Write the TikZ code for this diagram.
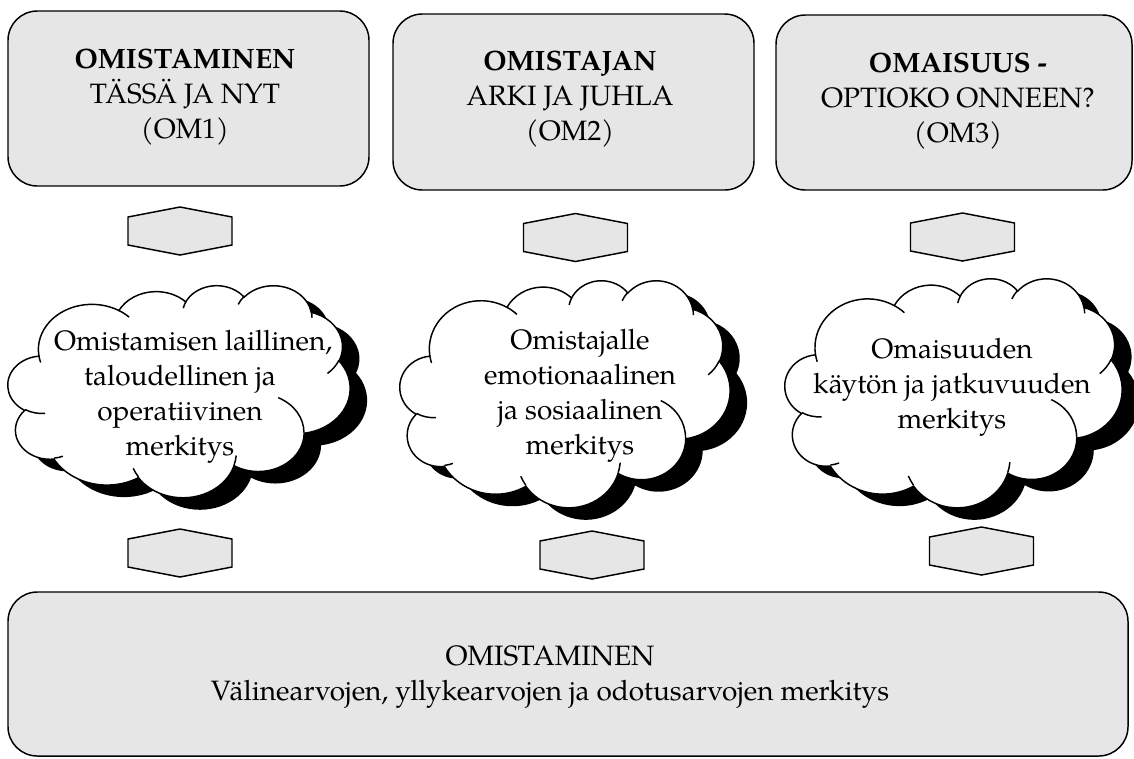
\documentclass[tikz,border=0pt]{standalone}
\usepackage{fontspec}
\setmainfont{TeX Gyre Pagella}
\definecolor{boxgray}{RGB}{230,230,230}
\tikzset{
  gbox/.style={draw=black, fill=boxgray, line width=1.1pt, rounded corners=22pt, inner sep=0pt},
  txt/.style={align=center, font=\fontsize{21}{26.25}\selectfont, inner sep=0pt},
  hexa/.style={draw=black, fill=boxgray, line width=1.1pt, line join=miter},
  cloudline/.style={draw=black, line width=1.1pt},
}
% arc of the Office cloud: wR hR stAng swAng (visual angles, degrees)
\newcommand\carc[4]{arc[start angle={cpar(#3,#1,#2)}, delta angle={cpar(#3+#4,#1,#2)-cpar(#3,#1,#2)}, x radius=#1, y radius=#2]}
\newcommand\cloudoutline{(3.900,14.370)
  \carc{6.753}{9.190}{-190.4875}{123.7805}
  \carc{5.333}{7.267}{-144.1024}{89.9452}
  \carc{4.365}{5.945}{-145.8079}{99.7230}
  \carc{4.857}{6.595}{-130.9861}{117.2417}
  \carc{5.333}{7.273}{-78.7089}{109.0269}
  \carc{6.775}{9.220}{-46.2673}{130.2690}
  \carc{5.785}{7.867}{0.6250}{114.0333}
  \carc{6.752}{9.215}{22.4516}{115.1726}
  \carc{7.720}{10.543}{66.2426}{75.7110}
  \carc{4.360}{5.918}{-274.9421}{146.7356}
  \carc{4.345}{5.945}{-246.8285}{152.5189}
  -- cycle}
\newcommand\cloudinner{
  (4.693,26.177) \carc{4.345}{5.945}{86.742}{26.4295}
  (6.928,34.899) \carc{4.360}{5.918}{73.6105}{11.4475}
  (16.478,39.090) \carc{6.752}{9.215}{137.6242}{14.0811}
  (28.827,34.751) \carc{6.752}{9.215}{6.4533}{15.9984}
  (34.129,22.954) \carc{5.785}{7.867}{-70.2924}{70.9174}
  (41.798,15.354) \carc{5.333}{7.273}{30.3180}{27.7515}
  (38.324,5.426) \carc{4.857}{6.595}{-13.7443}{14.8589}
  (29.078,3.952) \carc{4.857}{6.595}{-149.1815}{18.1954}
  (22.141,4.720) \carc{4.365}{5.945}{-163.4943}{17.6864}
  (14.000,5.192) \carc{6.753}{9.190}{-66.7070}{12.3194}
  (4.127,15.789) \carc{6.753}{9.190}{157.6544}{11.8582}}
% cloud with shadow: left, top, width, height (pixels)
\newcommand\cloudat[4]{%
  \begin{scope}[shift={(#1+17,#2+12)}, xscale=#3/43.2, yscale=#4/43.2]
    \fill[black] \cloudoutline;
  \end{scope}
  \begin{scope}[shift={(#1,#2)}, xscale=#3/43.2, yscale=#4/43.2]
    \filldraw[fill=white, cloudline] \cloudoutline;
    \draw[cloudline] \cloudinner;
  \end{scope}}
\newcommand\hexat[2]{%
  \draw[hexa] ({#1},{#2-24}) -- ({#1+52},{#2-14}) -- ({#1+52},{#2+14}) -- ({#1},{#2+24}) -- ({#1-52},{#2+14}) -- ({#1-52},{#2-14}) -- cycle;}
\begin{document}
\begin{tikzpicture}[x=0.75pt, y=-0.75pt,
  declare function={cpar(\a,\w,\h)=atan2(\w*sin(\a),\h*cos(\a))+360*round((\a-atan2(\w*sin(\a),\h*cos(\a)))/360);}]
\useasboundingbox[fill=white] (0,0) rectangle (1134,758);

% top boxes
\node[gbox, minimum width=270.75pt, minimum height=131.25pt] (box1) at (188.5,98.5) {};
\node[gbox, minimum width=270.75pt, minimum height=132pt] (box2) at (573.5,102) {};
\node[gbox, minimum width=267pt, minimum height=131.25pt] (box3) at (954,102.5) {};
\node[txt] (t1) at (185,97.5) {\textbf{OMISTAMINEN}\\TÄSSÄ JA NYT\\(OM1)};
\node[txt] (t2) at (570,99) {\textbf{OMISTAJAN}\\ARKI JA JUHLA\\(OM2)};
\node[txt] (t3) at (958,101) {\textbf{OMAISUUS -}\\OPTIOKO ONNEEN?\\(OM3)};

% top hexagons
\hexat{180}{231}
\hexat{575.5}{237.5}
\hexat{962.5}{237}

% clouds
\cloudat{8}{285}{342}{212}
\cloudat{400}{280}{330}{227}
\cloudat{785}{278}{337}{229}
\node[txt] (c1) at (180,397) {\hspace*{20pt}Omistamisen laillinen,\\taloudellinen ja\\operatiivinen\\merkitys};
\node[txt] (c2) at (580,396) {Omistajalle\\emotionaalinen\\ja sosiaalinen\\merkitys};
\node[txt] (c3) at (952,387) {Omaisuuden\\käytön ja jatkuvuuden\\merkitys};

% bottom hexagons
\hexat{180}{553}
\hexat{592}{555}
\hexat{981.5}{551}

% bottom box
\node[gbox, minimum width=840pt, minimum height=123pt] (base) at (568,674) {};
\node[txt] (tb) at (550,677) {OMISTAMINEN\\Välinearvojen, yllykearvojen ja odotusarvojen merkitys};
\end{tikzpicture}
\end{document}
